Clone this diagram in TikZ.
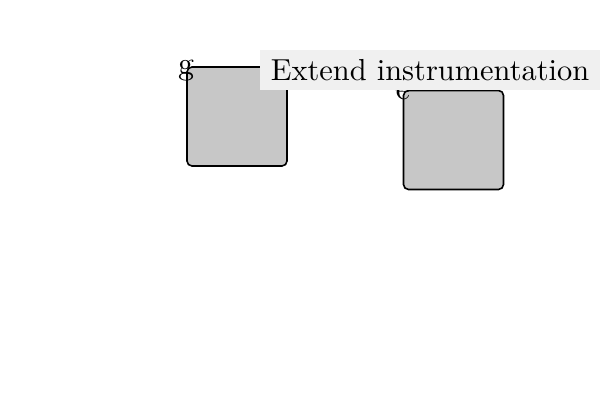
\documentclass[tikz,border=0pt]{standalone}
\usetikzlibrary{positioning}
\begin{document}
\begin{tikzpicture}[x=0.5pt,y=-0.5pt,
    block/.style={rectangle, draw, thick, rounded corners=2.5pt,
      fill=black!22, minimum width=50pt, minimum height=49.5pt, inner sep=0pt},
    mark label/.style={inner sep=0pt},
    tag/.style={rectangle, fill=black!6, inner sep=0pt,
      minimum width=170pt, minimum height=20pt}]
  \useasboundingbox (0,0) rectangle (600,400);

  \node[block] (g) at (237,116.5) {};
  \node[block] (e) at (453.5,140) {};
  \node[mark label] (gl) at (186,71) {\scalebox{1.6}{g}};
  \node[mark label] (el) at (403,93) {\scalebox{1.6}{e}};
  \coordinate (t) at (385,89);
  \draw[semithick] (t) -- (e.north west);

  \node[tag] (ext) at (430,70) {\scalebox{1.52}{Extend instrumentation}};
\end{tikzpicture}
\end{document}
